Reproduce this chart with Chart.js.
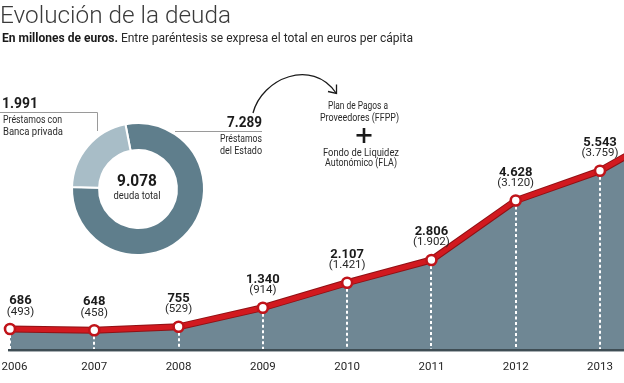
<!DOCTYPE html>
<html><head><meta charset="utf-8">
<script src="https://cdn.jsdelivr.net/npm/chart.js@4.4.0/dist/chart.umd.min.js"></script>
<style>
html,body{margin:0;padding:0;background:#fff;overflow:hidden}
#wrap{position:relative;width:624px;height:383px}
canvas{position:absolute;left:0;top:0}
</style></head><body>
<div id="wrap"><canvas id="line" width="624" height="383"></canvas><canvas id="donut" width="624" height="383"></canvas></div>
<script>
// ---- data ----
const years = [2006, 2007, 2008, 2009, 2010, 2011, 2012, 2013];
const yearLabels = ['2006', '2007', '2008', '2009', '2010', '2011', '2012', '2013'];
const debt = [686, 648, 755, 1340, 2107, 2806, 4628, 5543];
const debtLabels = ['686', '648', '755', '1.340', '2.107', '2.806', '4.628', '5.543'];
const perCapita = [493, 458, 529, 914, 1421, 1902, 3120, 3759];
const perCapitaLabels = ['(493)', '(458)', '(529)', '(914)', '(1.421)', '(1.902)', '(3.120)', '(3.759)'];
// the line leaves the frame to the right after 2013
const tailYear = [2014];
const tailValue = [7000];
const donutNames = ['Préstamos del Estado', 'Préstamos con Banca privada'];
const donutValues = [7289, 1991];
const donutValueLabels = ['7.289', '1.991'];
const totalDebtLabel = '9.078';

const FONT = 'Roboto, "Open Sans", sans-serif';
function txt(ctx, s, x, y, font, color, align, width) {
  ctx.save();
  ctx.font = font; ctx.fillStyle = color; ctx.textBaseline = 'alphabetic'; ctx.textAlign = 'left';
  const w = ctx.measureText(s).width;
  const sx = width ? width / w : 1;
  const ww = w * sx;
  const left = align === 'left' ? x : align === 'right' ? x - ww : x - ww / 2;
  ctx.translate(left, y); ctx.scale(sx, 1);
  ctx.fillText(s, 0, 0);
  ctx.restore();
  return ww;
}

const pts = years.map((y, i) => ({x: y, y: debt[i]})).concat(tailYear.map((y, i) => ({x: y, y: tailValue[i]})));

const areaPlugin = {
  id: 'areaDecor',
  beforeDatasetsDraw(chart) {
    const {ctx, scales: {x, y}, chartArea} = chart;
    ctx.save();
    // dashed drop lines
    ctx.strokeStyle = '#ffffff'; ctx.lineWidth = 2; ctx.setLineDash([3, 2.5]);
    years.forEach((yr, i) => {
      const px = Math.round(x.getPixelForValue(yr));
      const py = y.getPixelForValue(debt[i]);
      ctx.beginPath(); ctx.moveTo(px, py + 6); ctx.lineTo(px, chartArea.bottom - 2); ctx.stroke();
    });
    ctx.setLineDash([]);
    // baseline
    const x0 = x.getPixelForValue(years[0]) - 2;
    ctx.fillStyle = '#3f4d54';
    ctx.fillRect(x0, chartArea.bottom - 2.4, chartArea.right - x0, 2.4);
    ctx.restore();
  },
  afterDatasetsDraw(chart) {
    const {ctx, scales: {x, y}} = chart;
    years.forEach((yr, i) => {
      const px = x.getPixelForValue(yr);
      const py = y.getPixelForValue(debt[i]);
      const cx = Math.max(px, 20.5);
      txt(ctx, debtLabels[i], cx, py - 25, 'bold 13px ' + FONT, '#1b1b1b', 'center');
      txt(ctx, perCapitaLabels[i], cx, py - 14.5, '11.5px ' + FONT, '#262626', 'center');
      txt(ctx, yearLabels[i], Math.max(px, 14.5), 370, '11.5px ' + FONT, '#262626', 'center');
    });
  }
};

new Chart(document.getElementById('line'), {
  type: 'line',
  data: {
    datasets: [
      {
        data: pts, borderColor: '#d2191f', borderWidth: 5, tension: 0,
        pointRadius: (c) => c.dataIndex < years.length ? 5 : 0,
        pointBorderWidth: 2.6, pointBackgroundColor: '#ffffff', pointBorderColor: '#c0141a',
        fill: 'origin', backgroundColor: '#6f8794', order: 0
      },
      {
        data: pts, borderColor: '#8f1115', borderWidth: 7, tension: 0,
        pointRadius: 0, fill: false, order: 1
      }
    ]
  },
  options: {
    responsive: false, animation: false, events: [],
    layout: {autoPadding: false, padding: {left: 0, right: 0, top: 0, bottom: 31.6}},
    scales: {
      x: {type: 'linear', min: 2006 - 10 / 84.286, max: 2013 + 24 / 84.286, display: false},
      y: {min: 0, max: 10782, display: false}
    },
    plugins: {legend: {display: false}, tooltip: {enabled: false}, filler: {drawTime: 'beforeDatasetsDraw'}}
  },
  plugins: [areaPlugin]
});

const donutPlugin = {
  id: 'donutDecor',
  afterDraw(chart) {
    const ctx = chart.ctx;
    // title + subtitle
    txt(ctx, 'Evolución de la deuda', 0, 22.5, '300 24px ' + FONT, '#3a3a3a', 'left', 231);
    ctx.save(); ctx.font = 'bold 12.5px ' + FONT;
    const bw = ctx.measureText('En millones de euros.').width; ctx.font = '12.5px ' + FONT;
    const rw = ctx.measureText(' Entre paréntesis se expresa el total en euros per cápita').width; ctx.restore();
    const s = 411 / (bw + rw);
    txt(ctx, 'En millones de euros.', 2, 41.5, 'bold 12.5px ' + FONT, '#1a1a1a', 'left', bw * s);
    txt(ctx, ' Entre paréntesis se expresa el total en euros per cápita', 2 + bw * s, 41.5, '12.5px ' + FONT, '#2a2a2a', 'left', rw * s);

    // leader lines
    ctx.save();
    ctx.strokeStyle = '#9a9a9a'; ctx.lineWidth = 1;
    ctx.beginPath(); ctx.moveTo(0, 112.5); ctx.lineTo(97.5, 112.5); ctx.lineTo(97.5, 131); ctx.stroke();
    ctx.beginPath(); ctx.moveTo(175, 131.5); ctx.lineTo(262, 131.5); ctx.stroke();
    ctx.restore();

    // private banks
    txt(ctx, donutValueLabels[1], 2, 108, 'bold 14px ' + FONT, '#1b1b1b', 'left', 36);
    txt(ctx, 'Préstamos con', 3, 123, '10.5px ' + FONT, '#2a2a2a', 'left', 59);
    txt(ctx, 'Banca privada', 3, 134.5, '10.5px ' + FONT, '#2a2a2a', 'left', 60);
    // state
    txt(ctx, donutValueLabels[0], 262, 127, 'bold 14px ' + FONT, '#1b1b1b', 'right', 35);
    txt(ctx, 'Préstamos', 262, 142, '10.5px ' + FONT, '#2a2a2a', 'right', 42);
    txt(ctx, 'del Estado', 262, 153.5, '10.5px ' + FONT, '#2a2a2a', 'right', 42);
    // center
    const m = chart.getDatasetMeta(0).data[0];
    txt(ctx, totalDebtLabel, m.x - 1, 186, 'bold 16.5px ' + FONT, '#1b1b1b', 'center', 40);
    txt(ctx, 'deuda total', m.x - 1, 198.5, '10.5px ' + FONT, '#2a2a2a', 'center', 47);

    // arrow
    ctx.save();
    ctx.strokeStyle = '#1a1a1a'; ctx.lineWidth = 1.3;
    ctx.beginPath(); ctx.moveTo(253, 113); ctx.bezierCurveTo(262, 78, 312, 58, 336, 93); ctx.stroke();
    ctx.beginPath(); ctx.moveTo(328, 91.5); ctx.lineTo(336.5, 93.5); ctx.lineTo(336.5, 84.5); ctx.stroke();
    ctx.restore();
    // FFPP + FLA
    txt(ctx, 'Plan de Pagos a', 358, 109, '10px ' + FONT, '#2a2a2a', 'center', 60);
    txt(ctx, 'Proveedores (FFPP)', 359.5, 120.5, '10px ' + FONT, '#2a2a2a', 'center', 79);
    ctx.save(); ctx.fillStyle = '#1a1a1a';
    ctx.fillRect(356.5, 134, 15, 2.6); ctx.fillRect(362.7, 128, 2.6, 15);
    ctx.restore();
    txt(ctx, 'Fondo de Liquidez', 361, 156, '10px ' + FONT, '#2a2a2a', 'center', 76);
    txt(ctx, 'Autonómico (FLA)', 361, 166, '10px ' + FONT, '#2a2a2a', 'center', 72);
  }
};

new Chart(document.getElementById('donut'), {
  type: 'doughnut',
  data: {
    labels: donutNames,
    datasets: [{data: donutValues, backgroundColor: ['#5f7e8c', '#a8bdc7'], borderColor: '#ffffff', borderWidth: 2}]
  },
  options: {
    responsive: false, animation: false, events: [],
    cutout: '59%', rotation: -11,
    layout: {padding: {left: 71, top: 122, right: 419, bottom: 127}},
    plugins: {legend: {display: false}, tooltip: {enabled: false}}
  },
  plugins: [donutPlugin]
});
</script>
</body></html>
